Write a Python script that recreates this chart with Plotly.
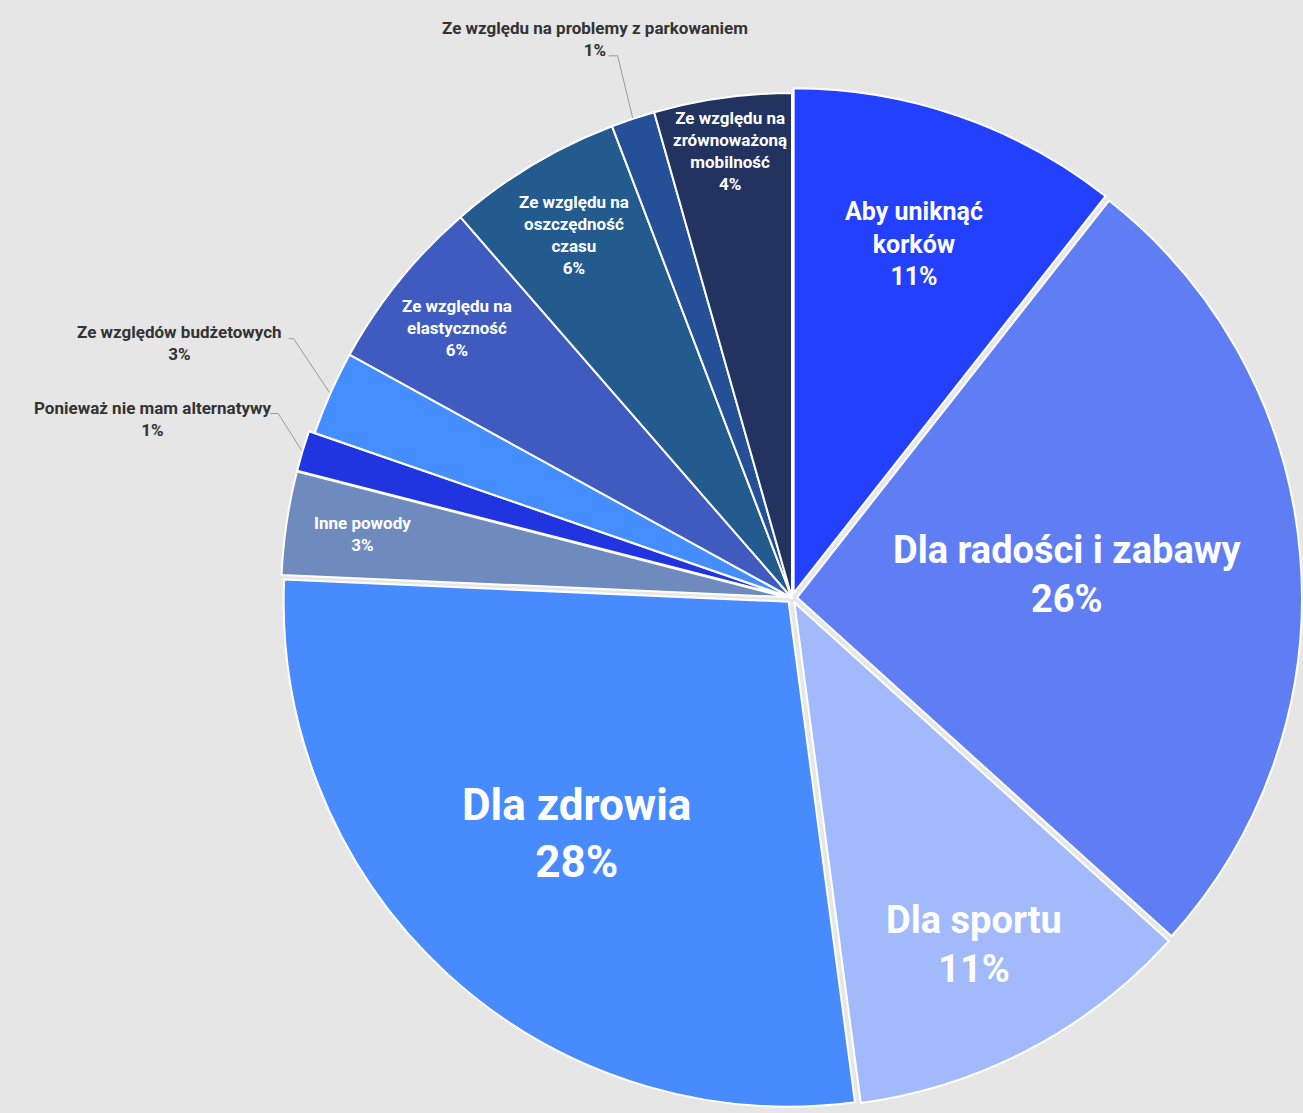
import math
import plotly.graph_objects as go

# --- data -------------------------------------------------------------
reasons = [
    "Aby uniknąć korków",
    "Dla radości i zabawy",
    "Dla sportu",
    "Dla zdrowia",
    "Inne powody",
    "Ponieważ nie mam alternatywy",
    "Ze względów budżetowych",
    "Ze względu na elastyczność",
    "Ze względu na oszczędność czasu",
    "Ze względu na problemy z parkowaniem",
    "Ze względu na zrównoważoną mobilność",
]
shares = [10.6, 26.1, 11.2, 27.8, 3.3, 1.3, 2.7, 5.6, 5.6, 1.4, 4.4]

# wrapped display names
display_names = [
    "Aby uniknąć<br>korków",
    "Dla radości i zabawy",
    "Dla sportu",
    "Dla zdrowia",
    "Inne powody",
    "Ponieważ nie mam alternatywy",
    "Ze względów budżetowych",
    "Ze względu na<br>elastyczność",
    "Ze względu na<br>oszczędność<br>czasu",
    "Ze względu na problemy z parkowaniem",
    "Ze względu na<br>zrównoważoną<br>mobilność",
]

# --- style ------------------------------------------------------------
colors = ["#2340FF", "#5F7EF4", "#A2B9FB", "#478BFF", "#6F8BBE", "#2035E0",
          "#458EFF", "#405BBF", "#235B8F", "#254F96", "#22335F"]
pulls = [0.01, 0.01, 0.01, 0.01, 0.012, 0.012, 0, 0, 0, 0, 0]
text_sizes = [25, 38, 38, 44, 17, 17, 17, 17, 17, 17, 17]
# radial position (fraction of radius) of labels drawn inside the slice
inside_r = {0: 0.731, 1: 0.538, 2: 0.766, 3: 0.623, 4: 0.847,
            7: 0.851, 8: 0.838, 10: 0.893}
outside = {5, 6, 9}        # tiny slices labelled outside the pie

W, H = 1303, 1113
CX, CY = 792, 598          # pie centre in px
RMAX = W - CX              # room to the right edge
FONT = "Roboto"
BG = "#E6E6E6"

dom_x = [(CX - RMAX) / W, 1.0]
dom_y = [1 - (CY + RMAX) / H, 1 - (CY - RMAX) / H]

fig = go.Figure(go.Pie(
    labels=reasons,
    values=shares,
    textinfo="none",
    hovertemplate="%{label}<br>%{percent:.0%}<extra></extra>",
    marker=dict(colors=colors, line=dict(color="white", width=2)),
    pull=pulls,
    sort=False,
    direction="clockwise",
    rotation=0,
    showlegend=False,
    domain=dict(x=dom_x, y=dom_y),
))

# --- slice labels -----------------------------------------------------
r_px = RMAX / (1 + max(pulls))
total = sum(shares)


def px_to_paper(x, y):
    return x / W, 1 - y / H


# elbow offset from slice edge, tail length, label offset/anchor
leader_style = {
    9: dict(elbow=(-15, -62), tail=-9, lab=(-14, -17), xa="center"),
    6: dict(elbow=(-36, -54), tail=-5, lab=(-5, 4), xa="right"),
    5: dict(elbow=(-23.5, -37), tail=-8, lab=(3, 5), xa="right"),
}

shapes = []
annotations = []
cum = 0.0
for i, v in enumerate(shares):
    mid = (cum + v / 2) / total * 2 * math.pi
    cum += v
    pct = round(v / total * 100)
    dx, dy = math.sin(mid), -math.cos(mid)
    if i in inside_r:
        rr = r_px * (inside_r[i] + pulls[i])
        x, y = px_to_paper(CX + rr * dx, CY + rr * dy)
        annotations.append(dict(
            x=x, y=y, xref="paper", yref="paper",
            text=f"{display_names[i]}<br>{pct}%",
            showarrow=False, xanchor="center", yanchor="middle", align="center",
            font=dict(family=FONT, size=text_sizes[i], color="white", weight=700),
        ))
        continue
    st = leader_style[i]
    r_edge = r_px * (1 + pulls[i]) + 1
    ex, ey = CX + r_edge * dx, CY + r_edge * dy
    bx, by = ex + st["elbow"][0], ey + st["elbow"][1]
    tx, ty = bx + st["tail"], by
    p0, p1, p2 = px_to_paper(ex, ey), px_to_paper(bx, by), px_to_paper(tx, ty)
    shapes.append(dict(
        type="path", xref="paper", yref="paper",
        path=f"M {p0[0]} {p0[1]} L {p1[0]} {p1[1]} L {p2[0]} {p2[1]}",
        line=dict(color="#9A9A9A", width=1),
    ))
    lx, ly = px_to_paper(tx + st["lab"][0], ty + st["lab"][1])
    annotations.append(dict(
        x=lx, y=ly, xref="paper", yref="paper",
        text=f"{reasons[i]}<br>{pct}%",
        showarrow=False, xanchor=st["xa"], yanchor="middle", align="center",
        font=dict(family=FONT, size=17, color="#333333", weight=700),
    ))

fig.update_layout(
    width=W, height=H,
    margin=dict(l=0, r=0, t=0, b=0),
    paper_bgcolor=BG, plot_bgcolor=BG,
    shapes=shapes, annotations=annotations,
)

fig.write_html("out.html")
